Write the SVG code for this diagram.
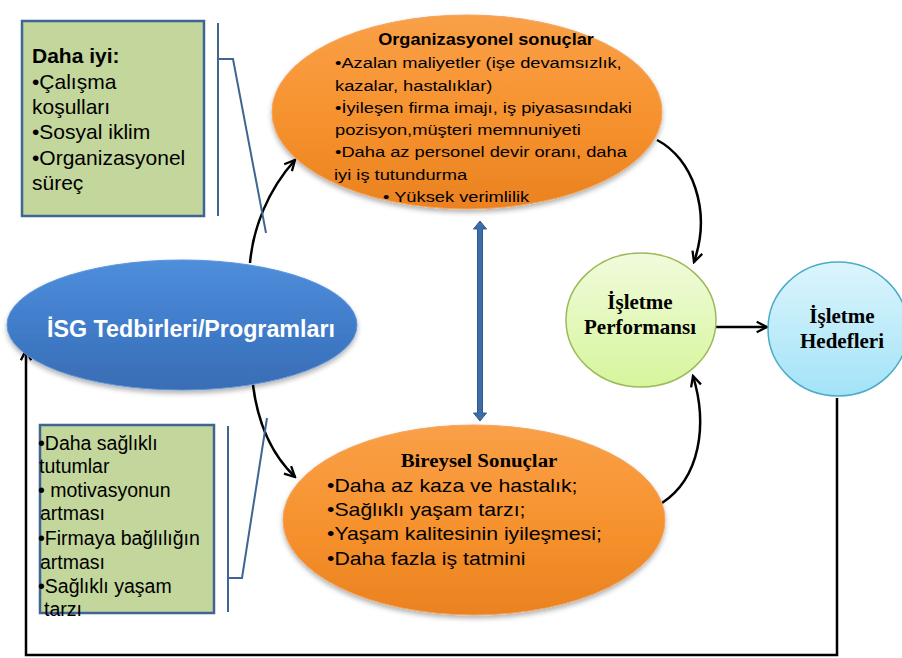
<svg xmlns="http://www.w3.org/2000/svg" width="902" height="658" viewBox="0 0 902 658">
<defs>
  <linearGradient id="gOrange" x1="0" y1="0" x2="0" y2="1">
    <stop offset="0" stop-color="#f9a048"/>
    <stop offset="0.5" stop-color="#f7932f"/>
    <stop offset="1" stop-color="#ea8220"/>
  </linearGradient>
  <linearGradient id="gBlue" x1="0" y1="0" x2="0" y2="1">
    <stop offset="0" stop-color="#4f8edb"/>
    <stop offset="0.55" stop-color="#3f7bc8"/>
    <stop offset="1" stop-color="#3a6db3"/>
  </linearGradient>
  <linearGradient id="gGreen" x1="0" y1="0" x2="0" y2="1">
    <stop offset="0" stop-color="#f1fbdc"/>
    <stop offset="1" stop-color="#d6f59c"/>
  </linearGradient>
  <linearGradient id="gCyan" x1="0" y1="0" x2="0" y2="1">
    <stop offset="0" stop-color="#dcf5fd"/>
    <stop offset="1" stop-color="#a3e3f7"/>
  </linearGradient>
  <filter id="shadow" x="-10%" y="-10%" width="120%" height="130%">
    <feDropShadow dx="0" dy="3" stdDeviation="2.5" flood-color="#000" flood-opacity="0.3"/>
  </filter>
  <marker id="arr" viewBox="0 0 12 12" refX="10.5" refY="6" markerWidth="5.5" markerHeight="5.5" markerUnits="strokeWidth" orient="auto">
    <path d="M1.5,1.5 L10.5,6 L1.5,10.5" fill="none" stroke="#000" stroke-width="2"/>
  </marker>
</defs>
<style>
  .box{fill:#c3d69b;stroke:#3f6594;stroke-width:2.5}
  .brk{fill:none;stroke:#3f6594;stroke-width:2}
  .con{fill:none;stroke:#000;stroke-width:2.5;marker-end:url(#arr)}
  .sans{font-family:"Liberation Sans",Arial,sans-serif;fill:#000}
  .serif{font-family:"Liberation Serif","Times New Roman",serif;font-weight:bold;fill:#000}
</style>

<g id="connectors">
  <path class="con" d="M250,263 C253,228 268,190 295,160"/>
  <path class="con" d="M253,385 C258,425 272,455 295,477"/>
  <path class="con" d="M657,140 C692,158 712,210 694,262"/>
  <path class="con" d="M662,503 C700,478 708,425 693,376"/>
  <path class="con" d="M716,327 L767,327"/>
  <path class="con" d="M837,398 V655 H26 V350"/>
  <path d="M477.5,229 V413 H473.5 L480,421 L486.5,413 H482.5 V229 H486.5 L480,221 L473.5,229 Z" fill="#3e6ca6" stroke="#2f5a90" stroke-width="1"/>
  <path class="brk" d="M218,23 V216 M218,59 H233 L266,233"/>
  <path class="brk" d="M228,426 V612 M228,578 H242 L267,418"/>
</g>

<g id="box-top">
  <rect class="box" x="22" y="21" width="182" height="195"/>
  <text class="sans" font-size="21" x="32" y="63" font-weight="bold">Daha iyi:</text>
  <text class="sans" font-size="21" x="32" y="89">•Çalışma</text>
  <text class="sans" font-size="21" x="32" y="114">koşulları</text>
  <text class="sans" font-size="21" x="32" y="139">•Sosyal iklim</text>
  <text class="sans" font-size="21" x="32" y="165">•Organizasyonel</text>
  <text class="sans" font-size="21" x="32" y="190">süreç</text>
</g>

<g id="box-bottom">
  <rect class="box" x="40" y="425" width="174" height="188"/>
  <text class="sans" font-size="19.5" x="38" y="450">•Daha sağlıklı</text>
  <text class="sans" font-size="19.5" x="39" y="473">tutumlar</text>
  <text class="sans" font-size="19.5" x="38" y="497">• motivasyonun</text>
  <text class="sans" font-size="19.5" x="40" y="520">artması</text>
  <text class="sans" font-size="19.5" x="38" y="545">•Firmaya bağlılığın</text>
  <text class="sans" font-size="19.5" x="40" y="569">artması</text>
  <text class="sans" font-size="19.5" x="38" y="593">•Sağlıklı yaşam</text>
  <text class="sans" font-size="19.5" x="44" y="616">tarzı</text>
</g>

<g id="isg">
  <ellipse cx="182" cy="325" rx="175" ry="65" fill="url(#gBlue)" stroke="#5a96dc" stroke-width="1" filter="url(#shadow)"/>
  <text x="191" y="337" text-anchor="middle" font-family="'Liberation Sans',Arial,sans-serif" font-weight="bold" font-size="24" fill="#fff" textLength="288" lengthAdjust="spacingAndGlyphs">İSG Tedbirleri/Programları</text>
</g>

<g id="org">
  <ellipse cx="467" cy="112" rx="195" ry="97" fill="url(#gOrange)" stroke="#f2a561" stroke-width="1" filter="url(#shadow)"/>
  <text class="sans" font-weight="bold" font-size="16.5" transform="translate(486,45) scale(1.1,1)" text-anchor="middle">Organizasyonel sonuçlar</text>
  <g class="sans" font-size="15.5">
    <text transform="translate(335,68) scale(1.18,1)">•Azalan maliyetler (işe devamsızlık,</text>
    <text transform="translate(335,91) scale(1.18,1)">kazalar, hastalıklar)</text>
    <text transform="translate(335,113) scale(1.18,1)">•İyileşen firma imajı, iş piyasasındaki</text>
    <text transform="translate(335,135) scale(1.18,1)">pozisyon,müşteri memnuniyeti</text>
    <text transform="translate(335,157) scale(1.18,1)">•Daha az personel devir oranı, daha</text>
    <text transform="translate(334,180) scale(1.18,1)">iyi iş tutundurma</text>
    <text transform="translate(383,202) scale(1.18,1)">• Yüksek verimlilik</text>
  </g>
</g>

<g id="bireysel">
  <ellipse cx="474" cy="520" rx="191" ry="95" fill="url(#gOrange)" stroke="#f2a561" stroke-width="1" filter="url(#shadow)"/>
  <text class="serif" font-size="18" transform="translate(479,467) scale(1.16,1)" text-anchor="middle">Bireysel Sonuçlar</text>
  <g class="sans" font-size="18">
    <text transform="translate(327,492) scale(1.18,1)">•Daha az kaza ve hastalık;</text>
    <text transform="translate(327,516) scale(1.18,1)">•Sağlıklı yaşam tarzı;</text>
    <text transform="translate(327,540) scale(1.18,1)">•Yaşam kalitesinin iyileşmesi;</text>
    <text transform="translate(327,565) scale(1.18,1)">•Daha fazla iş tatmini</text>
  </g>
</g>

<g id="performans">
  <ellipse cx="641" cy="320" rx="75" ry="67" fill="url(#gGreen)" stroke="#9bbb59" stroke-width="1.5"/>
  <text class="serif" font-size="21" x="640" y="309" text-anchor="middle">İşletme</text>
  <text class="serif" font-size="21" x="640" y="334" text-anchor="middle">Performansı</text>
</g>

<g id="hedefler">
  <ellipse cx="838" cy="329" rx="70" ry="67" fill="url(#gCyan)" stroke="#4bacc6" stroke-width="1.5"/>
  <text class="serif" font-size="21" x="842" y="323" text-anchor="middle">İşletme</text>
  <text class="serif" font-size="21" x="842" y="348" text-anchor="middle">Hedefleri</text>
</g>
</svg>
